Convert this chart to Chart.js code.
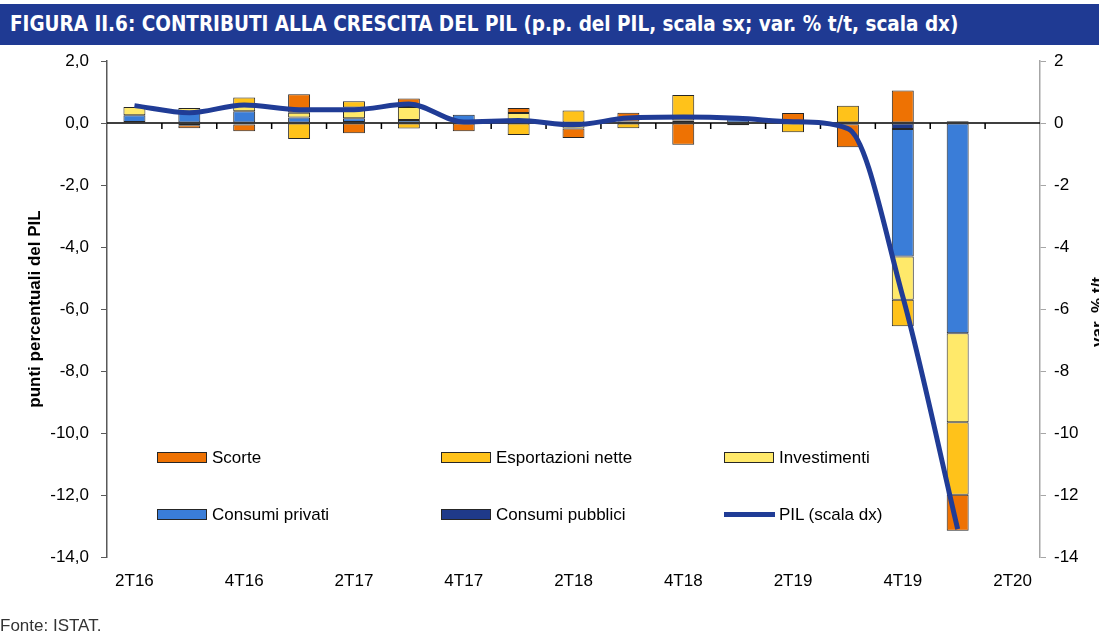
<!DOCTYPE html>
<html>
<head>
<meta charset="utf-8">
<script src="https://cdn.jsdelivr.net/npm/chart.js@4/dist/chart.umd.min.js"></script>
<style>
    body { margin: 0; width: 1099px; height: 633px; position: relative; background: #fff; overflow: hidden;
           font-family: "Liberation Sans", Arial, sans-serif; }
    #head { position: absolute; left: 0; top: 4px; width: 1099px; height: 41px; background: #1F3A93; }
    #headText { position: absolute; left: 10px; top: 7px; color: #fff;
                font: bold 22px "DejaVu Sans Condensed", "Liberation Sans Narrow", "Liberation Sans", sans-serif;
                white-space: nowrap; transform-origin: 0 0; }
    #chartBox { position: absolute; left: 0; top: 0; width: 1099px; height: 633px; }
    .leg { position: absolute; font-size: 17px; color: #000; white-space: nowrap; line-height: 20px; }
    .sw { position: absolute; left: 0; top: 4px; width: 50px; height: 11px; border: 1px solid #262626; box-sizing: border-box; }
    .ln { position: absolute; left: 0; top: 7px; width: 51px; height: 5px; }
    .leg span.t { position: absolute; left: 55px; top: 0; }
    #rTitle { position: absolute; left: 1098px; top: 312px; transform: translate(-50%, -50%) rotate(-90deg);
              font-weight: bold; font-size: 17px; white-space: nowrap; }
    #fonte { position: absolute; left: 0; top: 616px; font-size: 17px; color: #333; }
</style>
</head>
<body>
<div id="chartBox"><canvas id="pilChart" width="1099" height="633"></canvas></div>
<div id="head"><div id="headText">FIGURA II.6: CONTRIBUTI ALLA CRESCITA DEL PIL (p.p. del PIL, scala sx; var. % t/t, scala dx)</div></div>
<div id="legend"></div>
<div id="rTitle">var. % t/t</div>
<div id="fonte">Fonte: ISTAT.</div>
<script>
// quarters (the last one has no data in the picture)
const quarters = ["2T16", "3T16", "4T16", "1T17", "2T17", "3T17", "4T17", "1T18", "2T18",
                  "3T18", "4T18", "1T19", "2T19", "3T19", "4T19", "1T20", "2T20"];

// contributions, p.p. of GDP
const consumiPubblici = [0.03, -0.02, -0.05, 0.00, 0.03, 0.00, 0.05, 0.00, -0.03, 0.00, 0.00, 0.00, 0.00, -0.04, -0.19, 0.06, null];
const consumiPrivati  = [0.22, 0.35, 0.38, 0.18, 0.12, 0.10, 0.22, 0.00, 0.00, 0.05, 0.00, 0.12, 0.05, 0.00, -4.12, -6.78, null];
const investimenti    = [0.27, 0.13, 0.20, 0.15, 0.35, 0.42, 0.00, 0.32, -0.15, 0.00, 0.08, 0.00, 0.00, 0.00, -1.39, -2.87, null];
const esportazioni    = [0.00, -0.05, 0.24, -0.52, 0.20, -0.18, 0.00, -0.39, 0.40, -0.17, 0.82, 0.05, -0.30, 0.56, -0.86, -2.34, null];
const scorte          = [0.00, -0.10, -0.22, 0.60, -0.33, 0.27, -0.27, 0.16, -0.30, 0.28, -0.70, -0.07, 0.27, -0.74, 1.05, -1.16, null];

// GDP, % q/q (right scale)
const pil = [0.56, 0.33, 0.58, 0.43, 0.43, 0.61, 0.03, 0.08, -0.06, 0.16, 0.19, 0.15, 0.04, -0.18, -5.6, -13.1, null];

const yTicks = [2, 0, -2, -4, -6, -8, -10, -12, -14];

const colScorte = "#EE7203";
const colExport = "#FFC21A";
const colInvest = "#FFE96A";
const colPriv = "#3A7DD8";
const colPub = "#1F3A8A";
const colPil = "#203C96";

// header text squeezed to the width of the original
const headText = document.getElementById("headText");
headText.style.transform = "scaleX(" + (948 / headText.offsetWidth) + ")";

Chart.defaults.font.family = '"Liberation Sans", Arial, sans-serif';
Chart.defaults.font.size = 17;
Chart.defaults.color = "#000";

function barSet(label, data, color) {
    return {
        type: "bar",
        label: label,
        data: data,
        backgroundColor: color,
        borderColor: "#262626",
        borderWidth: 1,
        borderSkipped: false,
        barPercentage: 0.4,
        categoryPercentage: 1,
        yAxisID: "y",
        order: 1
    };
}

// zero line with small tick marks between the quarters
const zeroLine = {
    id: "zeroLine",
    beforeDatasetsDraw(chart) {
        const { ctx, chartArea, scales } = chart;
        const y0 = scales.y.getPixelForValue(0);
        ctx.save();
        ctx.strokeStyle = "#000";
        ctx.lineWidth = 1.5;
        ctx.beginPath();
        ctx.moveTo(chartArea.left, y0);
        ctx.lineTo(chartArea.right, y0);
        const n = quarters.length;
        for (let i = 1; i < n; i++) {
            const x = (scales.x.getPixelForTick(i - 1) + scales.x.getPixelForTick(i)) / 2;
            ctx.moveTo(x, y0);
            ctx.lineTo(x, y0 + 6);
        }
        ctx.stroke();
        ctx.restore();
    }
};

const datasets = [
    {
        type: "line",
        label: "PIL (scala dx)",
        data: pil,
        borderColor: colPil,
        backgroundColor: colPil,
        borderWidth: 5,
        pointRadius: 0,
        cubicInterpolationMode: "monotone",
        yAxisID: "y2",
        order: 0
    },
    barSet("Consumi pubblici", consumiPubblici, colPub),
    barSet("Consumi privati", consumiPrivati, colPriv),
    barSet("Investimenti", investimenti, colInvest),
    barSet("Esportazioni nette", esportazioni, colExport),
    barSet("Scorte", scorte, colScorte)
];

const pilChart = new Chart(document.getElementById("pilChart"), {
    data: { labels: quarters, datasets: datasets },
    plugins: [zeroLine],
    options: {
        responsive: false,
        animation: false,
        layout: { padding: { top: 61, left: 0, right: 0, bottom: 0 } },
        plugins: { legend: { display: false }, tooltip: { enabled: false } },
        scales: {
            x: {
                stacked: true,
                offset: true,
                grid: { display: false, drawTicks: false },
                border: { display: false },
                ticks: {
                    autoSkip: false,
                    maxRotation: 0,
                    padding: 14,
                    callback: function (value, index) {
                        return index % 2 === 0 ? this.getLabelForValue(value) : "";
                    }
                },
                afterFit: function (scale) { scale.height = 76; }
            },
            y: {
                stacked: true,
                position: "left",
                min: -14,
                max: 2,
                afterBuildTicks: function (scale) { scale.ticks = yTicks.map(v => ({ value: v })); },
                ticks: {
                    padding: 12,
                    callback: function (value) { return value.toFixed(1).replace(".", ","); }
                },
                grid: { drawOnChartArea: false, tickLength: 6, color: "#595959" },
                border: { color: "#595959", width: 1.5 },
                title: {
                    display: true,
                    text: "punti percentuali del PIL",
                    font: { weight: "bold", size: 17 },
                    padding: { top: 25, bottom: 0 }
                },
                afterFit: function (scale) { scale.width = 107; }
            },
            y2: {
                position: "right",
                min: -14,
                max: 2,
                afterBuildTicks: function (scale) { scale.ticks = yTicks.map(v => ({ value: v })); },
                ticks: { padding: 8 },
                grid: { drawOnChartArea: false, tickLength: 6, color: "#A6A6A6" },
                border: { color: "#A6A6A6", width: 1.5 },
                afterFit: function (scale) { scale.width = 59; }
            }
        }
    }
});

// legend inside the plot area, 3 columns x 2 rows
const legendOrder = ["Scorte", "Esportazioni nette", "Investimenti", "Consumi privati", "Consumi pubblici", "PIL (scala dx)"];
const legendX = [157, 441, 724];
const legendY = [448, 505];
const legendBox = document.getElementById("legend");
legendOrder.forEach(function (name, i) {
    const ds = datasets.find(d => d.label === name);
    const item = document.createElement("div");
    item.className = "leg";
    item.style.left = legendX[i % 3] + "px";
    item.style.top = legendY[Math.floor(i / 3)] + "px";
    const mark = document.createElement("div");
    if (ds.type === "line") {
        mark.className = "ln";
        mark.style.background = ds.borderColor;
    } else {
        mark.className = "sw";
        mark.style.background = ds.backgroundColor;
    }
    const txt = document.createElement("span");
    txt.className = "t";
    txt.textContent = name;
    item.appendChild(mark);
    item.appendChild(txt);
    legendBox.appendChild(item);
});
</script>
</body>
</html>
